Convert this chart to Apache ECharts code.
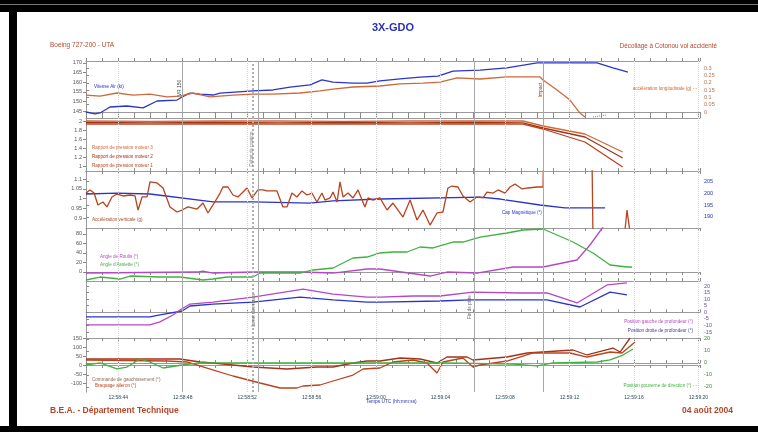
<!DOCTYPE html>
<html><head><meta charset="utf-8">
<script src="https://cdn.jsdelivr.net/npm/echarts@6/dist/echarts.min.js"></script>
<style>
html,body{margin:0;padding:0;background:#fff;}
#wrap{position:relative;width:758px;height:432px;overflow:hidden;background:#fff;}
#chart{position:absolute;left:0;top:0;width:758px;height:432px;}
.bk{position:absolute;background:#000;}
</style></head><body>
<div id="wrap">
<div id="chart"></div>
<div class="bk" style="left:0;top:0;width:758px;height:12px"></div>
<div class="bk" style="left:9px;top:0;width:8px;height:432px"></div>
<div class="bk" style="left:0;top:426px;width:758px;height:6px"></div>
<div style="position:absolute;left:0;top:4px;width:758px;height:1px;background:#777"></div>
</div>
<script>
// ---- time axis (seconds from start of record) ----
const timeLabelValues = [2,6,10,14,18,22,26,30,34,38];
const timeLabels = ["12:58:44","12:58:48","12:58:52","12:58:56","12:59:00","12:59:04","12:59:08","12:59:12","12:59:16","12:59:20"];
const eventTimes = [6.0, 24.1, 28.4];
const eventDotted = [10.35];
const eventSolid2 = [10.7];

// ---- panel 1 ----
const speedT = [0,0.56,0.87,1.49,2.54,3.54,4.41,5.65,5.96,6.45,7.07,7.88,8.32,10.36,11.6,12.66,13.9,14.64,15.33,16.57,17.44,18.24,19.49,20.73,21.84,22.77,24.45,26.12,27.99,31.71,32.7,33.63];
const speedV = [144.6,143.6,144.1,147.2,147.7,146.7,150.3,150.8,152.4,154.4,153.9,153.4,154.4,155.5,156.0,157.5,158.6,161.2,160.1,159.6,159.6,160.7,161.7,162.7,163.2,165.8,166.3,167.4,170.0,170.0,167.4,165.3];
const accLongT = [0,0.87,1.92,2.92,3.97,5.03,5.83,6.64,7.69,9.12,10.36,11.6,13.28,14.52,15.33,16.57,18.24,19.49,20.91,21.97,23.02,24.45,26.12,28.17,28.36,29.23,30.03,30.65,30.96];
const accLongV = [0.116,0.109,0.130,0.116,0.123,0.103,0.109,0.130,0.103,0.116,0.123,0.123,0.130,0.144,0.157,0.171,0.178,0.192,0.198,0.205,0.233,0.226,0.240,0.240,0.219,0.151,0.082,-0.007,-0.034];
const accLongTailT = [31.46,32.33];
const accLongTailV = [-0.034,-0.020];

// ---- panel 2 (EPR) ----
const eprT = [0,4,8,12,16,20,24,27.12,28.36,30.96,33.3];
const epr3V = [2.0,1.99,2.0,2.0,1.99,2.0,2.0,2.0,1.89,1.714,1.318];
const epr2V = [1.967,1.96,1.967,1.96,1.967,1.96,1.967,1.96,1.846,1.648,1.186];
const epr1V = [1.934,1.93,1.934,1.93,1.934,1.93,1.934,1.93,1.824,1.538,0.988];

// ---- panel 3 ----
const accVertT = [0,0.25,0.5,0.74,1.05,1.3,1.61,1.92,2.3,2.73,3.04,3.23,3.48,3.79,3.97,4.41,4.78,5.21,5.65,5.96,6.33,6.89,7.26,7.57,7.88,8.32,8.5,8.81,9.12,9.43,9.68,9.99,10.3,10.67,10.98,11.23,11.85,12.22,12.47,12.78,13.09,13.4,13.71,14.02,14.33,14.64,14.83,15.14,15.33,15.58,15.76,15.95,16.26,16.57,16.88,17.13,17.31,17.5,17.81,18.24,18.68,19.05,19.67,20.11,20.54,20.91,21.35,21.78,22.15,22.46,22.71,23.08,23.39,23.83,24.26,24.64,24.88,25.26,25.57,26.0,26.31,26.62,27.06,27.43,27.99,28.36,28.39,null,31.4,31.46,null,33.4,33.57,33.8];
const accVertV = [1.028,1.044,1.028,0.967,0.982,0.957,1.008,1.023,1.013,1.018,1.013,0.941,1.008,1.008,1.085,1.080,1.054,0.957,0.931,0.941,0.957,0.946,0.977,0.926,0.967,1.028,1.059,1.059,1.018,1.008,1.028,1.054,1.003,1.044,1.044,1.039,1.039,0.957,0.957,1.028,1.008,1.039,1.018,1.028,0.982,1.028,0.992,1.003,1.033,0.982,1.085,1.008,1.028,1.003,1.044,0.992,0.957,1.003,0.992,1.003,0.941,0.977,0.905,0.992,0.890,0.941,0.864,0.926,0.931,1.054,1.064,1.059,1.013,0.982,1.008,1.003,1.033,1.028,1.044,1.028,1.059,1.074,1.049,1.054,1.059,1.059,1.20,null,1.20,0.80,null,0.80,0.941,0.80];
const headingT = [0,1.92,3.97,7.88,10.36,13.9,15.33,18.24,24.45,25.7,28.17,29.72,32.21];
const headingV = [199.6,200.0,199.6,196.3,196.3,195.8,196.7,197.5,198.3,197.5,195.0,193.8,193.8];

// ---- panel 4 ----
const rollT = [0,6.89,7.26,7.88,10.36,13.28,15.33,17.44,18.24,21.35,22.4,24.26,26.5,28.36,30.47,31.27,32.08,32.6];
const rollV = [-2.2,-0.1,2.0,-2.2,-0.1,-0.1,-2.2,6.3,6.3,-8.5,-0.1,-2.2,10.5,10.5,25.2,56.8,94.7,130];
const pitchT = [0,0.87,2.11,2.73,4.59,5.83,7.26,7.88,8.75,10.36,10.8,12.04,13.28,14.09,15.33,16.57,17.44,18.24,19.05,19.92,20.73,21.53,22.77,23.39,24.45,26.12,27.12,28.36,29.23,30.22,31.46,32.52,33.57,33.88];
const pitchV = [-16.9,-10.6,-14.8,-8.5,-10.6,-10.6,-16.9,-14.8,-10.6,-10.6,-2.2,-2.2,-2.2,4.2,8.4,29.4,31.5,40.0,42.1,42.1,52.6,50.5,63.1,63.1,73.6,82.1,88.4,90.5,77.9,63.1,40.0,14.7,10.5,10.5];

// ---- panel 5 ----
const elevT = [0,3.97,4.59,5.96,6.45,7.88,10.36,13.28,15.33,17.44,18.24,21.97,23.83,26.93,28.61,30.65,32.52,33.57];
const elevRightV = [-3.5,-3.5,-2.0,1.0,4.8,6.3,7.8,11.6,9.4,7.8,7.8,8.6,9.4,9.4,9.4,4.05,15.4,13.2];
const elevLeftT = [0,3.97,4.59,5.4,5.83,6.45,7.88,10.36,13.47,15.33,17.44,18.24,20.29,21.97,24.01,26.93,28.61,30.47,32.33,33.57];
const elevLeftV = [-9.6,-9.6,-7.3,-2.0,1.8,6.3,7.8,11.6,17.7,13.9,11.6,11.6,12.4,12.4,15.4,14.7,14.7,7.1,20.8,22.3];

// ---- panel 6 ----
const wheelT = [0,5.83,7.07,7.88,10.36,12.47,14.33,15.33,16.57,17.44,18.24,19.49,20.73,21.78,22.4,23.64,24.01,26.12,27.37,30.22,31.09,32.7,33.14,33.76];
const wheelV = [33.3,33.3,16.7,11.1,-11.1,-22.2,-11.1,-11.1,11.1,22.2,22.2,38.9,33.3,11.1,44.4,44.4,27.8,44.4,66.7,83.3,55.6,94.4,72.2,150];
const aileronT = [0,5.03,6.27,7.51,9.12,10.8,12.04,13.09,13.47,14.52,15.33,16.57,17.19,18.24,19.05,20.29,21.16,21.78,22.15,23.39,24.01,24.45,26.12,27.74,30.03,31.09,32.52,33.26,34.07];
const aileronV = [27.8,22.2,16.7,-16.7,-61.1,-100,-127.8,-127.8,-116.7,-111.1,-88.9,-55.6,-22.2,-16.7,16.7,27.8,11.1,-44.4,16.7,38.9,-11.1,0,22.2,66.7,66.7,44.4,72.2,66.7,127.8];
const rudderT = [0,0.87,1.92,2.54,3.35,3.97,4.78,5.96,7.07,18.24,22.4,26.5,27.99,28.98,31.71,32.52,33.32,33.94];
const rudderV = [-1.7,0,-5.0,-3.4,3.3,0.8,-4.2,-1.7,0,0,0,-0.9,-2.5,0,0.8,2.5,6.6,11.6];

// ---- axis tick labels ----
const p1LeftTicks = [145,150,155,160,165,170];
const p1RightTicks = [0,0.05,0.1,0.15,0.2,0.25,0.3];
const p2LeftTicks = [1,1.2,1.4,1.6,1.8,2];
const p3LeftTicks = [0.9,0.95,1,1.05,1.1];
const p3RightTicks = [190,195,200,205];
const p4LeftTicks = [0,20,40,60,80];
const p5RightTicks = [-15,-10,-5,0,5,10,15,20];
const p6LeftTicks = [-100,-50,0,50,100,150];
const p6RightTicks = [-20,-10,0,10,20];

function pairs(t, v){ return t.map((x,i)=> (x===null ? [null,null] : [x, v[i]])); }

const FONT = 'Liberation Sans, Arial, sans-serif';
const grids = [[61,57],[118,53],[171,57],[228,53],[281,57],[338,54]];
const XMAX = 38.1;

const xAxes = [];
grids.forEach((g,i)=>{
  xAxes.push({gridIndex:i, type:'value', min:0, max:XMAX, interval:1, position:'bottom',
    axisLine:{show:true, lineStyle:{color:'#9a9a9a', width:1}},
    axisTick:{show:true, length:3, lineStyle:{color:'#8a8a8a'}},
    axisLabel: i===5 ? {show:true, fontSize:5, color:'#2a4a5a', fontFamily:FONT, margin:3,
      formatter:(v)=>{const k=timeLabelValues.indexOf(Math.round(v*100)/100); return k>=0?timeLabels[k]:'';}} : {show:false},
    splitLine:{show:false}});
  xAxes.push({gridIndex:i, type:'value', min:0, max:XMAX, interval:1, position:'top',
    axisLine:{show:true, lineStyle:{color:'#9a9a9a', width:1}},
    axisTick:{show:true, length:3, lineStyle:{color:'#8a8a8a'}},
    axisLabel:{show:false}, splitLine:{show:false}});
});

function yax(gi, pos, min, max, ticks, color){
  const a = {gridIndex:gi, type:'value', position:pos, min:min, max:max,
    axisLine:{show:true, lineStyle:{color:'#9a9a9a', width:1}},
    splitLine:{show:false}};
  if (ticks){
    a.axisLabel = {show:true, customValues:ticks, fontSize:5.5, color:color, fontFamily:FONT, margin:4};
    a.axisTick = {show:true, customValues:ticks, length:3, lineStyle:{color:'#888'}};
  } else {
    a.axisLabel = {show:false};
    a.axisTick = {show:false};
  }
  return a;
}
const yAxes = [
  yax(0,'left',141.5,171,p1LeftTicks,'#555'),
  yax(0,'right',-0.041,0.349,p1RightTicks,'#b07050'),
  yax(1,'left',0.9,2.066,p2LeftTicks,'#555'),
  yax(1,'right',0,1,null),
  yax(2,'left',0.849,1.141,p3LeftTicks,'#555'),
  yax(2,'right',185.4,209.2,p3RightTicks,'#2233bb'),
  yax(3,'left',-19,92.6,p4LeftTicks,'#555'),
  yax(3,'right',0,1,null),
  yax(4,'left',0,1,null),
  yax(4,'right',-19.5,23.8,p5RightTicks,'#6a4a9a'),
  yax(5,'left',-150,150,p6LeftTicks,'#555'),
  yax(5,'right',-24.2,20.8,p6RightTicks,'#3a8a3a')
];

function markLines(){
  const d = [];
  timeLabelValues.forEach(v=>d.push({xAxis:v, lineStyle:{color:'#d8d8d8', type:'dotted', width:1}}));
  eventTimes.forEach(v=>d.push({xAxis:v, lineStyle:{color:'#a8a8a8', type:'solid', width:1}}));
  eventDotted.forEach(v=>d.push({xAxis:v, lineStyle:{color:'#b0b0b0', type:'dotted', width:2}}));
  eventSolid2.forEach(v=>d.push({xAxis:v, lineStyle:{color:'#a8a8a8', type:'solid', width:1}}));
  return {silent:true, symbol:'none', label:{show:false}, animation:false, data:d};
}

function line(name, gi, yi, t, v, color, extra){
  const s = {name:name, type:'line', xAxisIndex:gi*2, yAxisIndex:yi, data:pairs(t,v),
    showSymbol:false, connectNulls:false, animation:false, clip:true,
    lineStyle:{color:color, width:1.3}, itemStyle:{color:color}};
  return Object.assign(s, extra||{});
}

const C_BLUE = '#2b35c8', C_ORANGE = '#cc6a3a', C_RED1 = '#b8431e', C_RED2 = '#a33318', C_RED3 = '#d0683a',
      C_PURPLE = '#b448c4', C_GREEN = '#3fb23f';

const series = [
  line('Vitesse Air (kt)',0,0,speedT,speedV,C_BLUE,{markLine:markLines()}),
  line('accélération longitudinale (g)',0,1,accLongT,accLongV,C_ORANGE),
  line('acc tail',0,1,accLongTailT,accLongTailV,C_ORANGE,{lineStyle:{color:C_ORANGE,width:1,type:'dotted'}}),
  line('Rapport de pression moteur 3',1,2,eprT,epr3V,C_RED3,{markLine:markLines()}),
  line('Rapport de pression moteur 2',1,2,eprT,epr2V,C_RED2),
  line('Rapport de pression moteur 1',1,2,eprT,epr1V,C_RED1),
  line('Cap Magnétique (°)',2,5,headingT,headingV,C_BLUE,{markLine:markLines()}),
  line('Accélération verticale (g)',2,4,accVertT,accVertV,C_RED1),
  line('Angle de Roulis (°)',3,6,rollT,rollV,C_PURPLE,{markLine:markLines()}),
  line("Angle d'Assiette (°)",3,6,pitchT,pitchV,C_GREEN),
  line('Position droite de profondeur (°)',4,9,elevT,elevRightV,C_BLUE,{markLine:markLines()}),
  line('Position gauche de profondeur (°)',4,9,elevLeftT,elevLeftV,C_PURPLE),
  line('Commande de gauchissement (°)',5,10,wheelT,wheelV,C_RED2,{markLine:markLines()}),
  line('Braquage aileron (°)',5,10,aileronT,aileronV,C_RED1),
  line('Position gouverne de direction (°)',5,11,rudderT,rudderV,C_GREEN)
];

function txt(text,x,y,fill,size,opts){
  opts = opts||{};
  return {type:'text', x:x, y:y, rotation:opts.rot||0, silent:true, z:50,
    style:{text:text, fill:fill, font:(opts.bold?'bold ':'')+size+'px '+FONT,
      align:opts.align||'left', verticalAlign:'middle'}};
}
const graphic = [
  txt('3X-GDO',393,28,'#2a30b8',11,{bold:true,align:'center'}),
  txt('Boeing 727-200 - UTA',50,45,'#b2482a',6.5),
  txt('Décollage à Cotonou vol accidenté',717,46,'#b2482a',6.3,{align:'right'}),
  txt('B.E.A. - Département Technique',50,411,'#b2482a',8.5,{bold:true}),
  txt('04 août 2004',733,411,'#b2482a',8.5,{bold:true,align:'right'}),
  txt('Temps UTC (hh:mm:ss)',366,402,'#2a30b8',4.8),
  txt('Vitesse Air (kt)',94,87,C_BLUE,4.6),
  txt('accélération longitudinale (g) - -',697,89,C_ORANGE,4.6,{align:'right'}),
  txt('Rapport de pression moteur 3',92,148,C_RED3,4.6),
  txt('Rapport de pression moteur 2',92,157,C_RED2,4.6),
  txt('Rapport de pression moteur 1',92,166,C_RED1,4.6),
  txt('Accélération verticale (g)',92,220,'#a0502a',4.6),
  txt('Cap Magnétique (°)',502,213,C_BLUE,4.6),
  txt('Angle de Roulis (°)',100,257,C_PURPLE,4.6),
  txt("Angle d'Assiette (°)",100,265,C_GREEN,4.6),
  txt('Position gauche de profondeur (°)',693,322,C_PURPLE,4.6,{align:'right'}),
  txt('Position droite de profondeur (°)',693,331,'#3a3aa0',4.6,{align:'right'}),
  txt('Commande de gauchissement (°)',92,380,'#8a6a5a',4.6),
  txt('Braquage aileron (°)',95,386,C_RED1,4.6),
  txt('Position gouverne de direction (°) - -',697,386,C_GREEN,4.6,{align:'right'}),
  txt('VR 150',180,88,'#444',5,{rot:Math.PI/2,align:'center'}),
  txt('Impact',541,90,'#a0401e',5,{rot:Math.PI/2,align:'center'}),
  txt('Début de rotation',252,149,'#888',4.6,{rot:Math.PI/2,align:'center'}),
  txt('Lever des roues',254,310,'#666',4.6,{rot:Math.PI/2,align:'center'}),
  txt('Fin de piste',470,307,'#666',4.6,{rot:Math.PI/2,align:'center'})
];

const chart = echarts.init(document.getElementById('chart'), null, {renderer:'canvas'});
chart.setOption({
  backgroundColor:'#ffffff',
  animation:false,
  grid: grids.map(g=>({left:86, width:614, top:g[0], height:g[1], containLabel:false})),
  xAxis: xAxes,
  yAxis: yAxes,
  series: series,
  graphic: graphic
});
</script>
</body></html>
